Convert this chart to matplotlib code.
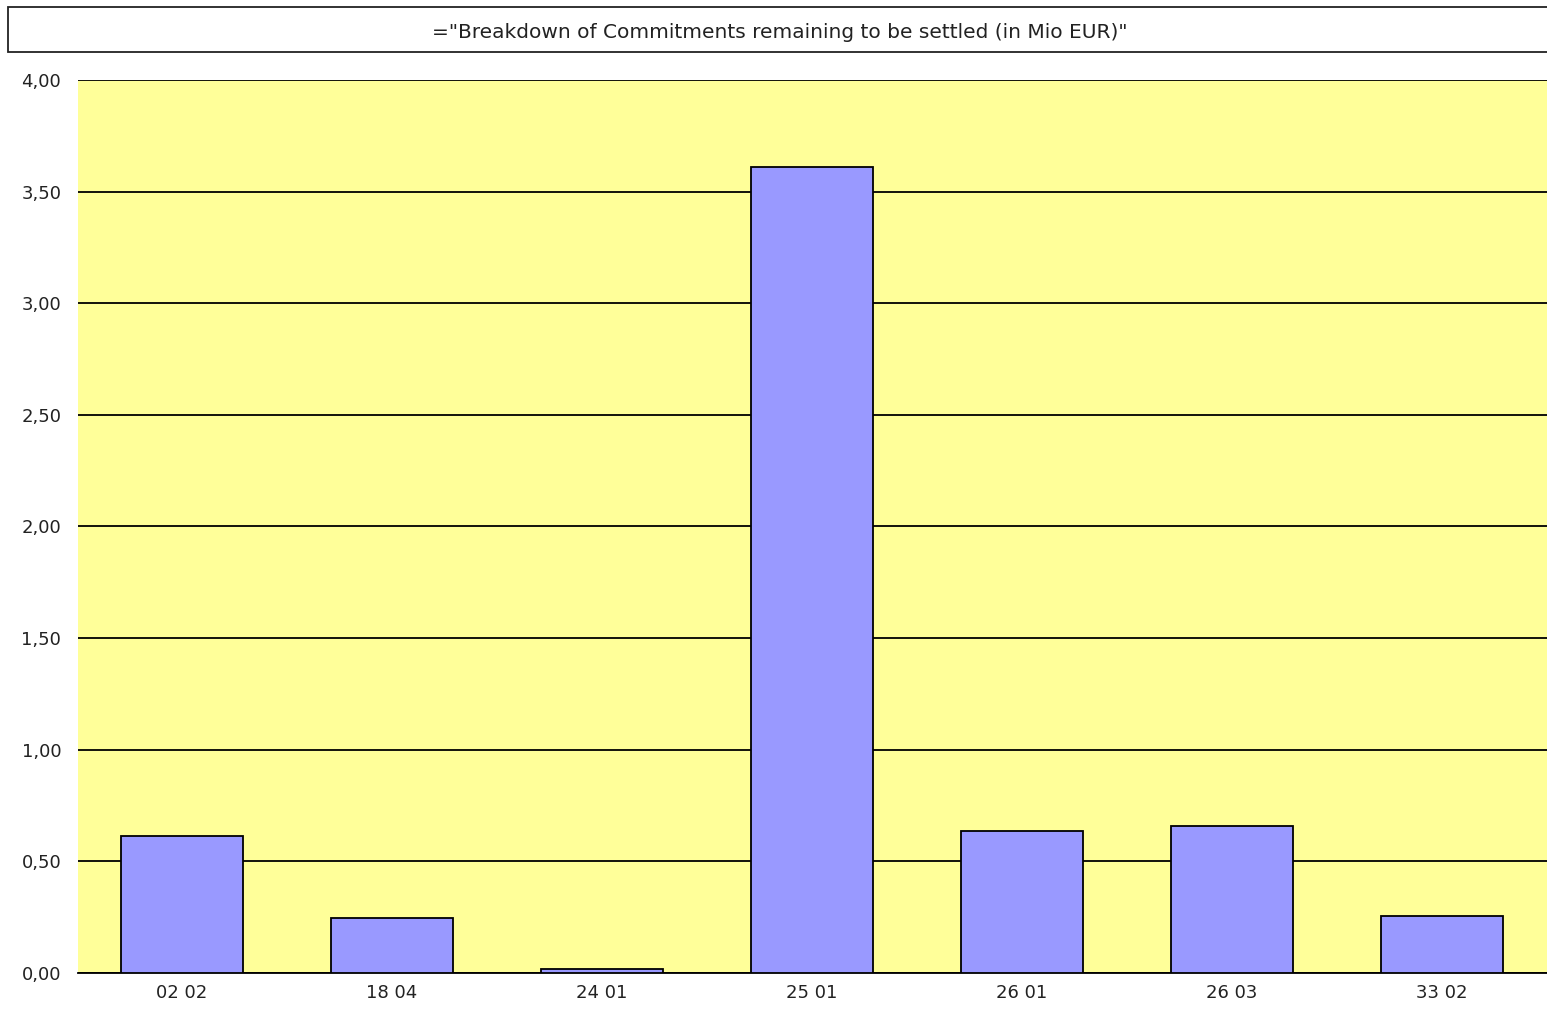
import matplotlib.pyplot as plt
from matplotlib.patches import Rectangle
from matplotlib.ticker import FuncFormatter

# data
categories = ['02 02', '18 04', '24 01', '25 01', '26 01', '26 03', '33 02']
values = [0.614, 0.246, 0.018, 3.61, 0.636, 0.660, 0.255]
title = '="Breakdown of Commitments remaining to be settled (in Mio EUR)"'

fig = plt.figure(figsize=(15.47, 10.15), dpi=100)
ax = fig.add_axes([0.0504, 0.0414, 0.9496, 0.8798])
ax.set_facecolor('#ffff99')

x = range(len(categories))
ax.bar(x, values, width=0.58, color='#9999ff', edgecolor='black', linewidth=1.3, zorder=3)

ax.set_xlim(-0.495, len(categories) - 0.5)
ax.set_ylim(0, 4)
ax.set_yticks([0, 0.5, 1, 1.5, 2, 2.5, 3, 3.5, 4])
ax.yaxis.set_major_formatter(FuncFormatter(lambda v, p: f'{v:.2f}'.replace('.', ',')))
ax.set_xticks(list(x))
ax.set_xticklabels(categories)
ax.grid(axis='y', color='black', linewidth=1.3, zorder=1)
ax.tick_params(axis='both', length=0, labelsize=13, colors='#222222')
ax.tick_params(axis='y', pad=12)
ax.tick_params(axis='x', pad=8)
for s in ['left', 'right', 'top']:
    ax.spines[s].set_visible(False)
ax.spines['bottom'].set_linewidth(1.3)

# title box
fig.patches.append(Rectangle((8 / 1547, 1 - 52 / 1015), 1.0, 45 / 1015,
                             transform=fig.transFigure, facecolor='white',
                             edgecolor='#222222', linewidth=1.3))
fig.text(780 / 1547, 1 - 32 / 1015, title, ha='center', va='center', fontsize=14.5,
         color='#222222')

fig.savefig('out.png', dpi=100)
